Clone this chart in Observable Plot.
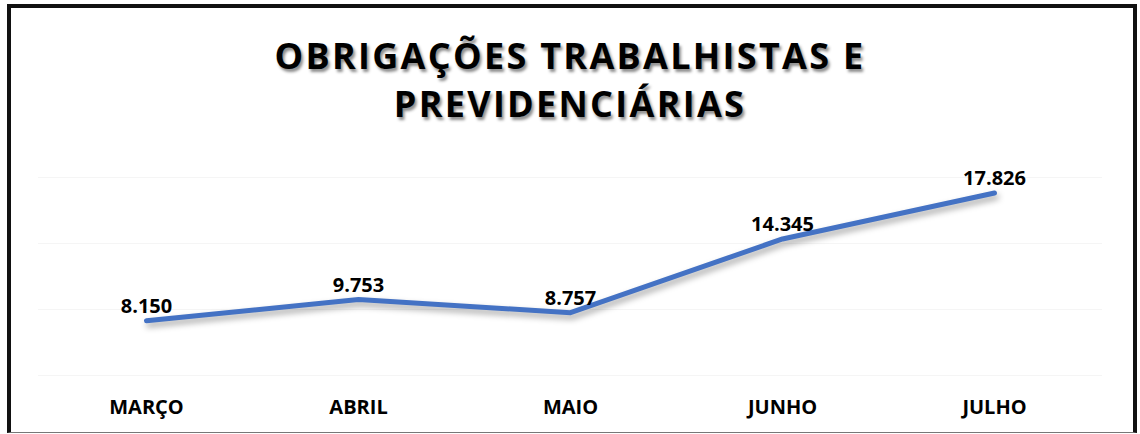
<!DOCTYPE html>
<html>
<head>
<meta charset="utf-8">
<script src="https://cdn.jsdelivr.net/npm/d3@7"></script>
<script src="https://cdn.jsdelivr.net/npm/@observablehq/plot@0.6"></script>
<style>
  html, body { margin: 0; padding: 0; background: #fff; }
  body { width: 1140px; height: 434px; position: relative; overflow: hidden; font-family: "Open Sans", sans-serif; }
  #frame {
    position: absolute; left: 7px; top: 4px; width: 1130px; height: 429px;
    box-sizing: border-box; border-top: 4px solid #111; border-left: 4px solid #111;
    border-right: 4px solid #111; border-bottom: 1px solid #777; pointer-events: none;
  }
  #title {
    height: 160px; box-sizing: border-box; padding-top: 32px; text-align: center;
    font-size: 36px; line-height: 48px; font-weight: bold; letter-spacing: 2.3px; color: #000;
    text-shadow: 2px 3px 3px rgba(0,0,0,0.45);
  }
  #chart svg { display: block; }
</style>
</head>
<body>
<div id="title">OBRIGAÇÕES TRABALHISTAS E<br>PREVIDENCIÁRIAS</div>
<div id="chart"></div>
<div id="frame"></div>
<script>
const months = ["MARÇO", "ABRIL", "MAIO", "JUNHO", "JULHO"];
const values = [8150, 9753, 8757, 14345, 17826];
const valueLabels = ["8.150", "9.753", "8.757", "14.345", "17.826"];
const gridTicks = [4000, 9000, 14000, 19000];

const data = months.map((m, i) => ({month: m, value: values[i], label: valueLabels[i]}));

const chart = Plot.plot({
  width: 1140,
  height: 274,
  marginLeft: 38,
  marginRight: 38,
  marginTop: 17,
  marginBottom: 59,
  style: "font-family: 'Open Sans', sans-serif; font-size: 20px; font-weight: bold; color: #000; background: transparent; overflow: visible;",
  x: {type: "point", domain: months, padding: 0.5, label: null, tickSize: 0, tickPadding: 24},
  y: {domain: [4000, 19000], axis: null},
  marks: [
    Plot.ruleY(gridTicks, {stroke: "#f5f5f5", strokeWidth: 1}),
    Plot.line(data, {x: "month", y: "value", stroke: "#4472C4", strokeWidth: 5, strokeLinecap: "round", strokeLinejoin: "round"}),
    Plot.text(data, {x: "month", y: "value", text: "label", dy: -14, fill: "#000", fontSize: 20, fontWeight: "bold"})
  ]
});
document.getElementById("chart").appendChild(chart);
d3.select(chart).selectAll("g[aria-label='line'] path")
  .style("filter", "drop-shadow(2px 4px 3px rgba(0,0,0,0.35))");
</script>
</body>
</html>
